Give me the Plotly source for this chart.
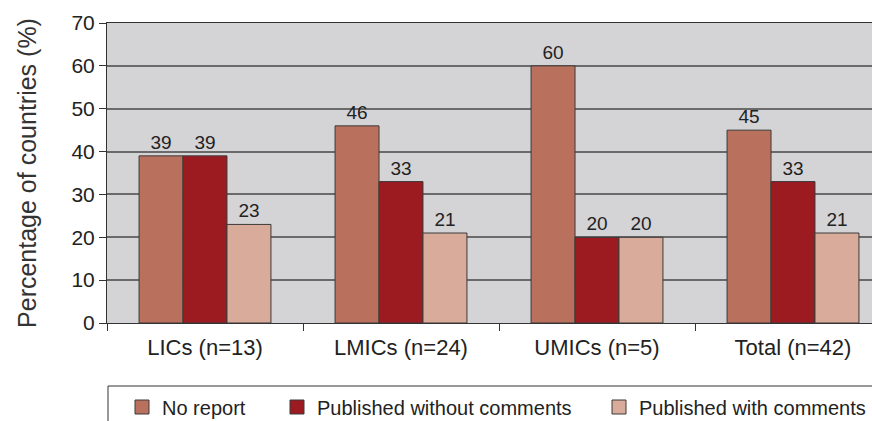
import plotly.graph_objects as go

categories = ["LICs (n=13)", "LMICs (n=24)", "UMICs (n=5)", "Total (n=42)"]
series_names = ["No report", "Published without comments", "Published with comments"]
no_report = [39, 46, 60, 45]
published_without = [39, 33, 20, 33]
published_with = [23, 21, 20, 21]
y_ticks = [0, 10, 20, 30, 40, 50, 60, 70]

colors = ["#b9705d", "#9b1b21", "#d9ab9b"]
series_values = [no_report, published_without, published_with]

FONT = "Liberation Sans, Arial, Helvetica, sans-serif"
W, H = 872, 421
L, R, T, B = 107, 0, 23, 98
pw = W - L - R
ph = H - T - B

def px_to_paper_x(px):
    return (px - L) / pw

def px_to_paper_y(py):
    return (H - B - py) / ph

fig = go.Figure()
legend_ids = ["legend", "legend2", "legend3"]
for name, vals, col, lid in zip(series_names, series_values, colors, legend_ids):
    fig.add_trace(go.Bar(
        x=categories, y=vals, name=name,
        marker=dict(color=col, line=dict(color="#3a3a3a", width=1)),
        text=[str(v) for v in vals], textposition="outside",
        textfont=dict(family=FONT, size=19, color="#222222"),
        cliponaxis=False, showlegend=False,
    ))
    # legend proxy
    fig.add_trace(go.Scatter(
        x=[None], y=[None], mode="markers", name=name, legend=lid,
        marker=dict(symbol="square", size=14, color=col,
                    line=dict(color="#3a3a3a", width=1)),
        showlegend=True,
    ))

leg_font = dict(family=FONT, size=20, color="#222222")
legend_common = dict(orientation="h", yanchor="middle", xanchor="left",
                     xref="container", yref="container",
                     y=(H - 407) / H, font=leg_font, bgcolor="rgba(0,0,0,0)",
                     borderwidth=0, itemclick=False)

fig.update_layout(
    width=W, height=H,
    margin=dict(l=L, r=R, t=T, b=B, pad=0, autoexpand=False),
    paper_bgcolor="white",
    plot_bgcolor="#d4d4d6",
    barmode="group",
    bargap=0.327,
    bargroupgap=0,
    font=dict(family=FONT, color="#222222"),
    legend=dict(x=122 / W, **legend_common),
    legend2=dict(x=277 / W, **legend_common),
    legend3=dict(x=599 / W, **legend_common),
    xaxis=dict(
        type="category",
        range=[-0.5, -0.5 + pw / 196.0],
        showline=True, linecolor="#333333", linewidth=1, mirror=True,
        ticks="outside", ticklen=7, tickcolor="#333333", tickwidth=1,
        tickson="boundaries", ticklabelstandoff=5,
        tickfont=dict(family=FONT, size=22, color="#222222"),
        showgrid=False, zeroline=False,
    ),
    yaxis=dict(
        range=[0, 70],
        tickvals=y_ticks,
        showline=True, linecolor="#333333", linewidth=1,
        ticks="outside", ticklen=7, tickcolor="#333333", tickwidth=1,
        tickfont=dict(family=FONT, size=21, color="#222222"),
        showgrid=True, gridcolor="#6a6a6a", gridwidth=1.5,
        zeroline=False,
        title=dict(text="Percentage of countries (%)",
                   font=dict(family=FONT, size=25, color="#333333"),
                   standoff=27),
    ),
    shapes=[dict(type="rect", xref="paper", yref="paper",
                 x0=px_to_paper_x(108), x1=1.05,
                 y0=px_to_paper_y(386), y1=px_to_paper_y(440),
                 line=dict(color="#333333", width=1), fillcolor="rgba(0,0,0,0)",
                 layer="above")],
)

fig.write_html(
    "out.html",
    config={"displayModeBar": False},
    post_script="document.body.style.margin='0';document.body.style.overflow='hidden';",
)
